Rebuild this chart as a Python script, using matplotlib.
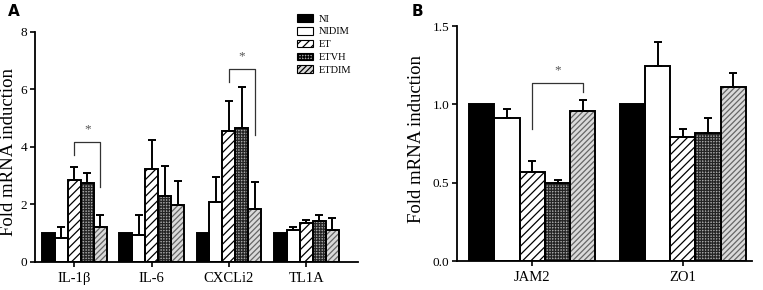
import matplotlib.pyplot as plt
import numpy as np

# values

SERIES = ('NI', 'NIDIM', 'ET', 'ETVH', 'ETDIM')

GENES_A = ('IL-1β', 'IL-6', 'CXCLi2', 'TL1A')
MEANS_A = {
    'NI':    [1.00, 1.00, 1.00, 1.00],
    'NIDIM': [0.85, 0.95, 2.07, 1.12],
    'ET':    [2.85, 3.22, 4.57, 1.35],
    'ETVH':  [2.75, 2.28, 4.67, 1.42],
    'ETDIM': [1.22, 1.97, 1.85, 1.10],
}
ERR_A = {
    'NI':    [0.00, 0.00, 0.00, 0.00],
    'NIDIM': [0.38, 0.70, 0.88, 0.10],
    'ET':    [0.45, 1.03, 1.03, 0.10],
    'ETVH':  [0.35, 1.07, 1.43, 0.23],
    'ETDIM': [0.43, 0.86, 0.92, 0.42],
}

GENES_B = ('JAM2', 'ZO1')
MEANS_B = {
    'NI':    [1.00, 1.00],
    'NIDIM': [0.91, 1.245],
    'ET':    [0.57, 0.79],
    'ETVH':  [0.50, 0.82],
    'ETDIM': [0.96, 1.11],
}
ERR_B = {
    'NI':    [0.00, 0.00],
    'NIDIM': [0.06, 0.155],
    'ET':    [0.07, 0.05],
    'ETVH':  [0.02, 0.09],
    'ETDIM': [0.07, 0.09],
}

# bracket: (group, first series, second series, top, left leg end, right leg end)
BRACKETS_A = [(0, 'ET', 'ETDIM', 4.17, 3.71, 2.6), (2, 'ET', 'ETDIM', 6.70, 6.26, 4.4)]
BRACKETS_B = [(0, 'ET', 'ETDIM', 1.134, 0.84, 1.08)]

STYLES = {
    'NI':    dict(face='black', hatch=None, hcol='black'),
    'NIDIM': dict(face='white', hatch=None, hcol='white'),
    'ET':    dict(face='white', hatch='////', hcol='black'),
    'ETVH':  dict(face='#a8a8a8', hatch='++++++', hcol='#252525'),
    'ETDIM': dict(face='#dadada', hatch='//////', hcol='#666666'),
}

BAR_W = 0.168
SERIF = ['Liberation Serif', 'DejaVu Serif']

plt.rcParams['hatch.linewidth'] = 0.9


def bar_x(group, name):
    i = SERIES.index(name)
    return group + (i - 2) * BAR_W


def draw_panel(ax, genes, means, errs, brackets, xlim):
    x = np.arange(len(genes))
    for i, name in enumerate(SERIES):
        st = STYLES[name]
        pos = x + (i - 2) * BAR_W
        ax.bar(pos, means[name], BAR_W, color=st['face'], hatch=st['hatch'],
               edgecolor=st['hcol'], linewidth=0, label=name, zorder=2)
        ax.bar(pos, means[name], BAR_W, fill=False, edgecolor='black',
               linewidth=1.4, zorder=3)
        err = np.array(errs[name])
        keep = err > 0
        ax.errorbar(pos[keep], np.array(means[name])[keep],
                    yerr=[np.zeros(keep.sum()), err[keep]], fmt='none',
                    ecolor='black', elinewidth=1.4, capsize=3.2,
                    capthick=1.4, zorder=4)

    for g, s1, s2, top, l_end, r_end in brackets:
        x1 = bar_x(g, s1)
        x2 = bar_x(g, s2)
        ax.plot([x1, x1, x2, x2], [l_end, top, top, r_end], color='#333333',
                lw=0.9, zorder=5)
        ax.text((x1 + x2) / 2, top + (ax.get_ylim()[1] * 0.03), '*',
                ha='center', va='bottom', color='#555555', fontsize=9.5,
                family=SERIF)

    ax.set_xlim(*xlim)
    ax.set_xticks(x)
    ax.set_xticklabels(genes, family=SERIF, fontsize=10.5)
    ax.spines['top'].set_visible(False)
    ax.spines['right'].set_visible(False)
    ax.spines['left'].set_linewidth(1.3)
    ax.spines['bottom'].set_linewidth(1.3)
    ax.tick_params(axis='both', width=1.2, length=3.5, direction='out')
    ax.tick_params(axis='y', labelsize=9.5, pad=2)
    for lab in ax.get_yticklabels():
        lab.set_family(SERIF)
    ax.set_ylabel('Fold mRNA induction', family=SERIF, fontsize=13.5)


def main() -> None:
    fig = plt.figure(figsize=(7.63, 2.90), dpi=100)

    ax_a = fig.add_axes([0.0459, 0.0966, 0.4233, 0.7931])
    ax_a.set_ylim(0, 8)
    ax_a.set_yticks([0, 2, 4, 6, 8])
    draw_panel(ax_a, GENES_A, MEANS_A, ERR_A, BRACKETS_A, (-0.51, 3.67))
    ax_a.yaxis.set_label_coords(-0.056, 0.48)

    handles, labels = ax_a.get_legend_handles_labels()
    leg = ax_a.legend(handles, labels, loc='upper left',
                      bbox_to_anchor=(0.795, 1.10), frameon=False,
                      prop={'family': SERIF, 'size': 7.5},
                      handlelength=1.5, handleheight=0.75,
                      labelspacing=0.32, handletextpad=0.6, borderpad=0)
    for h in leg.legend_handles:
        h.set_edgecolor('black')
        h.set_linewidth(0.8)

    ax_b = fig.add_axes([0.599, 0.1, 0.3866, 0.8103])
    ax_b.set_ylim(0, 1.5)
    ax_b.set_yticks([0.0, 0.5, 1.0, 1.5])
    ax_b.set_yticklabels(['0.0', '0.5', '1.0', '1.5'])
    draw_panel(ax_b, GENES_B, MEANS_B, ERR_B, BRACKETS_B, (-0.50, 1.46))
    ax_b.yaxis.set_label_coords(-0.11, 0.52)

    fig.text(0.011, 0.96, 'A', fontsize=11, fontweight='bold',
             family='DejaVu Sans', va='center')
    fig.text(0.539, 0.96, 'B', fontsize=11, fontweight='bold',
             family='DejaVu Sans', va='center')

    fig.savefig('out.png', dpi=100)


if __name__ == '__main__':
    main()
